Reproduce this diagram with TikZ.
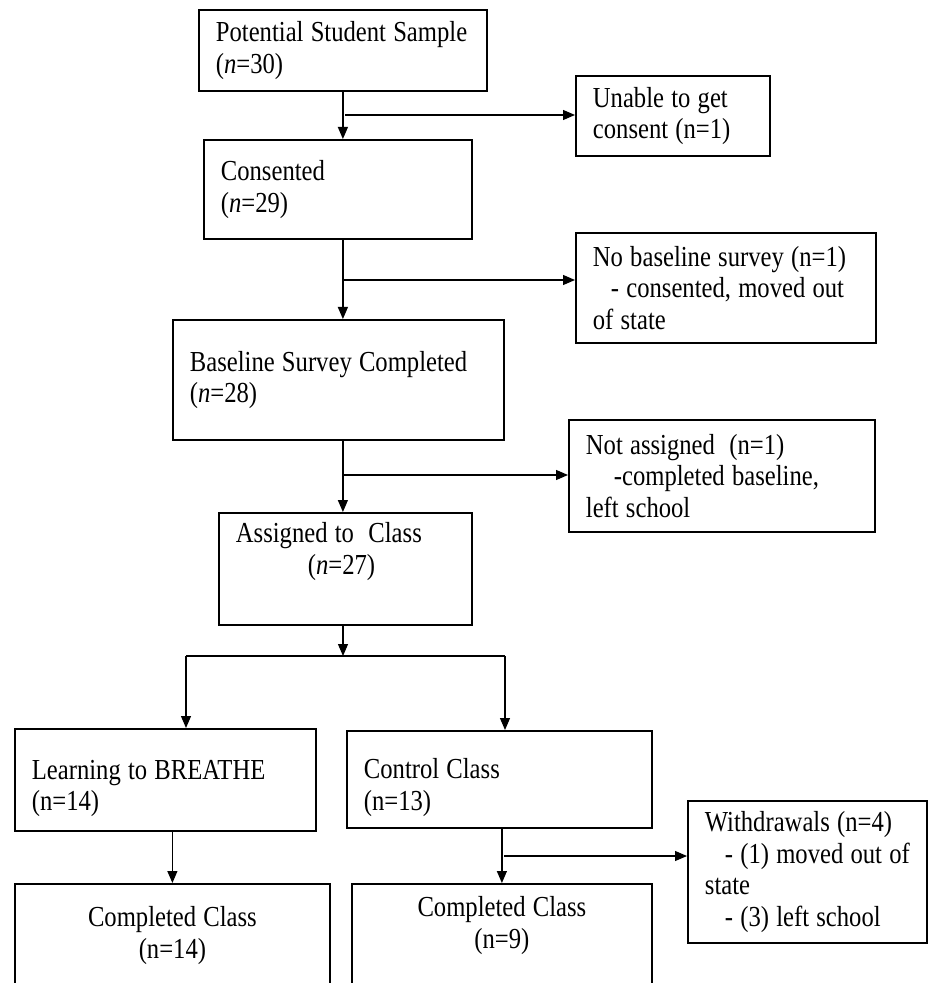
\documentclass[tikz,border=0pt]{standalone}
\usepackage{fontspec}
\setmainfont[FakeStretch=0.85]{Liberation Serif}
\usetikzlibrary{arrows.meta}
\tikzset{
  box/.style={draw, line width=0.9pt, anchor=north west, inner xsep=8.5pt, inner ysep=0pt,
    align=left, font=\fontsize{14.5}{15.8}\selectfont,
    execute at begin node={\spaceskip=3.6pt plus 1pt minus 0.5pt}},
  arr/.style={line width=0.6pt, -{Triangle[length=6pt,width=5pt]}},
}
\begin{document}
\begin{tikzpicture}[x=0.5pt,y=-0.5pt]
    \useasboundingbox (0,0) rectangle (931,983);

    \node[box, text width=127pt, minimum height=40.5pt] (pot) at (198,9) {\mbox{Potential Student Sample}\\(\textit{n}=30)};
    \node[box, text width=80pt, minimum height=40pt] (unable) at (575,75) {Unable to get\\\mbox{consent (n=1)}};
    \node[box, text width=117pt, minimum height=49.5pt] (cons) at (203,139) {Consented\\(\textit{n}=29)};
    \node[box, text width=133pt, minimum height=55pt] (nobase) at (575,232) {\mbox{No baseline survey (n=1)}\\\mbox{\hspace*{9pt}- consented, moved out}\\of state};
    \node[box, text width=148.5pt, minimum height=60pt] (base) at (172,319) {\mbox{Baseline Survey Completed}\\(\textit{n}=28)};
    \node[box, text width=136pt, minimum height=56pt] (notass) at (568,419) {Not assigned\ \ (n=1)\\\mbox{\hspace*{14pt}-completed baseline,}\\left school};
    \node[box, text width=109.5pt, minimum height=56pt] (assig) at (218,512) {\mbox{Assigned to\ \ Class}\\\hspace*{36pt}(\textit{n}=27)\\\strut};

    % the two classes
    \node[box, text width=133.5pt, minimum height=51pt] (breathe) at (14,728) {\rule{0pt}{18pt}\mbox{Learning to BREATHE}\\(n=14)};
    \node[box, text width=135.5pt, minimum height=48.5pt] (control) at (346,730) {\rule{0pt}{18pt}Control Class\\(n=13)};
    \node[box, text width=102.5pt, minimum height=71pt] (withd) at (687,800) {\mbox{Withdrawals (n=4)}\\\mbox{\hspace*{10pt}- (1) moved out of}\\state\\\mbox{\hspace*{10pt}- (3) left school}};
    \node[box, align=center, text width=140.5pt, minimum height=51.5pt] (donel) at (14,883) {Completed\hspace{3.6pt}Class\\(n=14)};
    \node[box, align=center, text width=133pt, minimum height=59pt] (doner) at (351,883) {Completed\hspace{3.6pt}Class\\(n=9)\\\strut};

    \coordinate (s1) at (345,115);
    \coordinate (s2) at (342,280);
    \coordinate (s3) at (342,475);
    \coordinate (split) at (343,656);
    \coordinate (sl) at (186,656);
    \coordinate (sr) at (505,656);
    \coordinate (s4) at (504,856);

    \draw[arr] (pot.south) -- (pot.south |- cons.north);
    \draw[arr] (s1) -- (s1 -| unable.west);
    \draw[arr] (cons.south -| pot.south) -- (base.north -| pot.south);
    \draw[arr] (s2) -- (s2 -| nobase.west);
    \draw[arr] (base.south -| pot.south) -- (assig.north -| pot.south);
    \draw[arr] (s3) -- (s3 -| notass.west);
    \draw[arr] (assig.south -| split) -- (split);
    \draw[line width=0.6pt] (sl) -- (sr);
    \draw[arr] (sl) -- (sl |- breathe.north);
    \draw[arr] (sr) -- (sr |- control.north);
    \draw[arr] (donel.north |- breathe.south) -- (donel.north);
    \draw[arr] (doner.north |- control.south) -- (doner.north);
    \draw[arr] (s4) -- (s4 -| withd.west);

\end{tikzpicture}
\end{document}
